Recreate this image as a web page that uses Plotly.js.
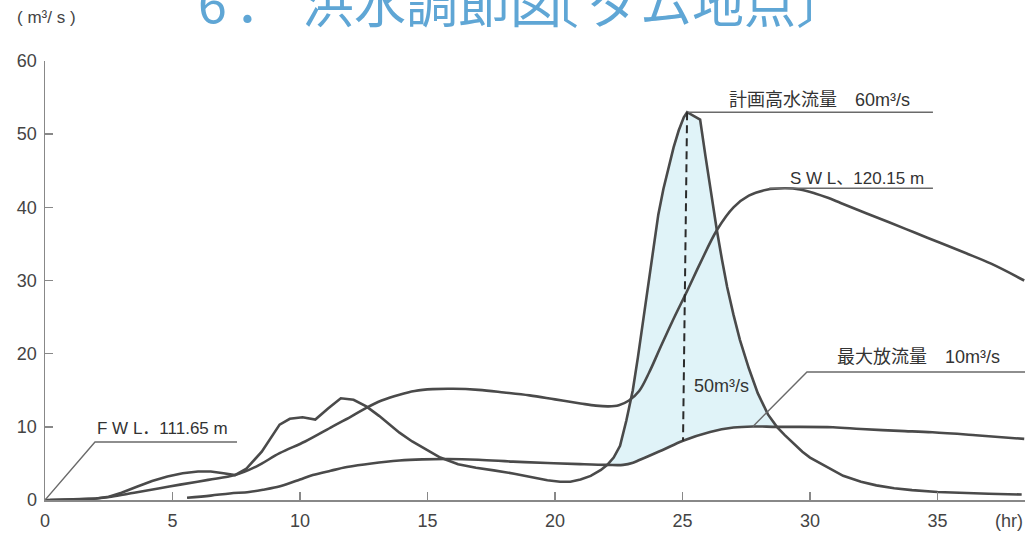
<!DOCTYPE html>
<html>
<head>
<meta charset="utf-8">
<script src="https://cdn.plot.ly/plotly-3.0.1.min.js"></script>
<style>html,body{margin:0;padding:0;background:#fff;}#chart{width:1025px;height:537px;}</style>
</head>
<body>
<div id="chart"></div>
<script>
// ---- data ----
// inflow hydrograph (m3/s)
const inflowX = [0.2,1.2,2.0,2.5,3.0,3.6,4.2,4.8,5.4,6.0,6.5,7.0,7.45,7.9,8.5,9.2,9.6,10.1,10.6,11.1,11.6,12.1,12.6,13.1,13.5,13.9,14.4,15.0,15.5,16.2,16.9,17.6,18.4,19.1,19.7,20.2,20.6,21.0,21.4,21.8,22.05,22.3,22.55,22.8,23.05,23.25,23.45,23.65,23.85,24.05,24.25,24.45,24.65,24.85,25.05,25.18,25.69,25.9,26.1,26.35,26.55,26.75,27.0,27.25,27.6,27.95,28.35,28.7,29.0,29.35,29.7,30.0,30.7,31.3,32.0,32.6,33.3,34.0,35.0,36.0,37.0,38.3];
const inflowY = [0.0,0.1,0.2,0.45,1.0,1.8,2.6,3.2,3.65,3.9,3.9,3.65,3.4,4.3,6.6,10.3,11.1,11.3,11.0,12.5,13.9,13.7,12.8,11.5,10.3,9.2,8.0,6.8,5.8,4.9,4.4,4.05,3.6,3.1,2.7,2.5,2.5,2.8,3.3,4.1,4.8,5.8,7.4,10.9,15.0,19.5,24.5,29.5,34.5,39.0,42.5,45.5,48.2,50.5,52.3,53.0,52.0,47.0,42.4,36.8,32.8,29.1,25.3,21.9,18.0,14.6,11.7,10.0,8.9,7.8,6.6,5.8,4.4,3.3,2.5,2.0,1.6,1.35,1.1,0.95,0.85,0.75];
// reservoir water level curve (drawn on the same scale, FWL -> SWL)
const levelX = [0,1.0,2.0,2.6,3.5,4.5,5.3,6.4,7.45,8.3,9.2,10.2,11.2,12.0,12.6,13.2,13.9,14.5,15.2,16.0,17.0,18.0,19.0,20.0,21.0,21.6,22.1,22.5,22.9,23.3,23.7,24.1,24.6,25.2,25.7,26.35,27.0,27.6,28.3,29.0,29.6,30.2,30.7,31.2,32.2,33.1,34.1,35.1,36.1,37.1,38.4];
const levelY = [0,0.05,0.2,0.45,1.0,1.6,2.1,2.75,3.4,4.6,6.4,8.0,9.9,11.4,12.6,13.6,14.4,14.9,15.15,15.2,15.05,14.7,14.3,13.75,13.2,12.9,12.8,12.95,13.6,14.9,17.5,20.6,24.4,28.7,32.4,36.9,40.0,41.6,42.4,42.6,42.45,41.9,41.3,40.6,39.2,37.95,36.55,35.15,33.75,32.3,30.0];
// outflow (m3/s)
const outflowX = [5.57,6.5,7.25,8.0,8.55,9.0,9.5,10.0,10.5,11.2,11.84,12.8,13.9,14.8,15.8,17.0,18.35,19.7,20.98,22.05,22.67,23.06,23.33,24.2,25.02,26.08,27.0,27.76,28.7,30.9,32.0,33.5,34.8,36.5,38.4];
const outflowY = [0.3,0.6,0.9,1.1,1.4,1.7,2.2,2.8,3.4,4.0,4.5,5.0,5.4,5.55,5.6,5.5,5.25,5.05,4.9,4.8,4.8,5.1,5.5,6.8,8.1,9.3,9.9,10.05,10.0,9.95,9.7,9.45,9.25,8.85,8.35];
const xTicks = [0,5,10,15,20,25,30,35];
const yTicks = [0,10,20,30,40,50,60];
const storeFrom = 22.05, storeTo = 28.7;   // where inflow exceeds outflow
const titleParts = ['6', '．', '洪水調節図', '〔', 'ダム地点〕'];
const labelPeak = '計画高水流量　60m³/s';
const labelSWL = 'S W L、120.15 m';
const labelOut = '最大放流量　10m³/s';
const labelCut = '50m³/s';
const labelFWL = 'F W L．111.65 m';
const unitY = '(\u00A0m³/\u00A0s\u00A0)';
const unitX = '(hr)';

// ---- helpers ----
function subset(xs, ys, a, b){ const X=[],Y=[]; xs.forEach((x,i)=>{ if(x>=a-1e-9 && x<=b+1e-9){X.push(x);Y.push(ys[i]);} }); return {X,Y}; }
function interp(xs, ys, x){ for(let i=0;i<xs.length-1;i++){ if(x>=xs[i] && x<=xs[i+1]){ const t=(x-xs[i])/(xs[i+1]-xs[i]); return ys[i]+t*(ys[i+1]-ys[i]); } } return ys[ys.length-1]; }
const pk = inflowY.indexOf(Math.max(...inflowY));
const peakX = inflowX[pk], peakY = inflowY[pk];
const swlMax = Math.max(...levelY);
const outFill = subset(outflowX, outflowY, storeFrom, storeTo);
const inFill = subset(inflowX, inflowY, storeFrom, storeTo);
const cutBottomX = 25.02;
const cutBottomY = interp(outflowX, outflowY, cutBottomX);
const outLeaderX = 27.76, outLeaderY = interp(outflowX, outflowY, outLeaderX);

const lineCol = '#4a4a4a';
const thin = {color:'#6a6a6a', width:1.4};

const traces = [
  {x:outFill.X, y:outFill.Y, mode:'lines', line:{width:0, shape:'spline'}, hoverinfo:'skip'},
  {x:inFill.X, y:inFill.Y, mode:'lines', line:{width:0}, fill:'tonexty', fillcolor:'rgb(224,243,248)', hoverinfo:'skip'},
  {x:levelX, y:levelY, mode:'lines', line:{color:lineCol, width:2.6, shape:'spline', smoothing:1}},
  {x:outflowX, y:outflowY, mode:'lines', line:{color:lineCol, width:2.6, shape:'spline', smoothing:1}},
  {x:inflowX, y:inflowY, mode:'lines', line:{color:lineCol, width:2.6}}
];

const lab = {family:'Liberation Sans, Noto Sans CJK JP, sans-serif', size:18, color:'#333'};
const labSmall = {family:'Liberation Sans, Noto Sans CJK JP, sans-serif', size:17, color:'#333'};
const titleFont = {family:'Noto Sans CJK JP, sans-serif', size:52, color:'#5fa6d5'};
// left edges (px) of the title pieces
const titleLeftPx = [196, 233, 300, 525, 586];
const px2paper = p => (p - 45) / 980;

const annotations = titleParts.map((t, i) => ({
  text:t, xref:'paper', yref:'paper', x:px2paper(titleLeftPx[i]), y:1.137, xanchor:'left', yanchor:'middle',
  showarrow:false, font:titleFont
}));
annotations.push(
  {text:labelPeak, xref:'x', yref:'y', x:26.75, y:54.67, xanchor:'left', yanchor:'middle', showarrow:false, font:lab},
  {text:labelSWL, xref:'x', yref:'y', x:29.14, y:44.0, xanchor:'left', yanchor:'middle', showarrow:false, font:labSmall},
  {text:labelOut, xref:'x', yref:'y', x:30.98, y:19.54, xanchor:'left', yanchor:'middle', showarrow:false, font:lab},
  {text:labelCut, xref:'x', yref:'y', x:25.37, y:15.58, xanchor:'left', yanchor:'middle', showarrow:false, font:lab},
  {text:labelFWL, xref:'x', yref:'y', x:1.96, y:9.84, xanchor:'left', yanchor:'middle', showarrow:false, font:labSmall},
  {text:unitY, xref:'paper', yref:'paper', x:-0.031, y:1.098, xanchor:'left', yanchor:'middle', showarrow:false, font:{family:'Liberation Sans, sans-serif', size:17, color:'#444'}},
  {text:unitX, xref:'paper', yref:'paper', x:1.0, y:-0.048, xanchor:'right', yanchor:'middle', showarrow:false, font:{family:'Liberation Sans, sans-serif', size:18, color:'#444'}}
);

const layout = {
  width:1025, height:537,
  margin:{l:45, r:0, t:61, b:37},
  paper_bgcolor:'#fff', plot_bgcolor:'#fff',
  showlegend:false,
  xaxis:{range:[0,38.43], tickvals:xTicks, ticktext:xTicks.map(String), ticks:'inside', ticklen:8, tickwidth:1.5, tickcolor:'#888',
         showline:true, linecolor:'#888', linewidth:1.5, showgrid:false, zeroline:false, fixedrange:true,
         tickfont:{family:'Liberation Sans, sans-serif', size:18, color:'#444'}, ticklabelstandoff:4},
  yaxis:{range:[0,60], tickvals:yTicks, ticktext:yTicks.map(String), ticks:'inside', ticklen:8, tickwidth:1.5, tickcolor:'#888',
         showline:true, linecolor:'#888', linewidth:1.5, showgrid:false, zeroline:false, fixedrange:true,
         tickfont:{family:'Liberation Sans, sans-serif', size:18, color:'#444'}, ticklabelstandoff:3},
  shapes:[
    {type:'line', xref:'x', yref:'y', x0:peakX, y0:peakY, x1:34.82, y1:peakY, line:thin},
    {type:'line', xref:'x', yref:'y', x0:28.4, y0:swlMax, x1:34.82, y1:swlMax, line:thin},
    {type:'path', xref:'x', yref:'y', path:`M ${outLeaderX} ${outLeaderY} L 29.88 17.5 L 38.43 17.5`, line:thin},
    {type:'path', xref:'x', yref:'y', path:`M 0 0 L 1.96 7.93 L 7.53 7.93`, line:thin},
    {type:'line', xref:'x', yref:'y', x0:peakX, y0:peakY, x1:cutBottomX, y1:cutBottomY, line:{color:'#2a2a2a', width:2, dash:'8px,5px'}}
  ],
  annotations:annotations
};

Plotly.newPlot('chart', traces, layout, {staticPlot:true, displayModeBar:false});
</script>
</body>
</html>
